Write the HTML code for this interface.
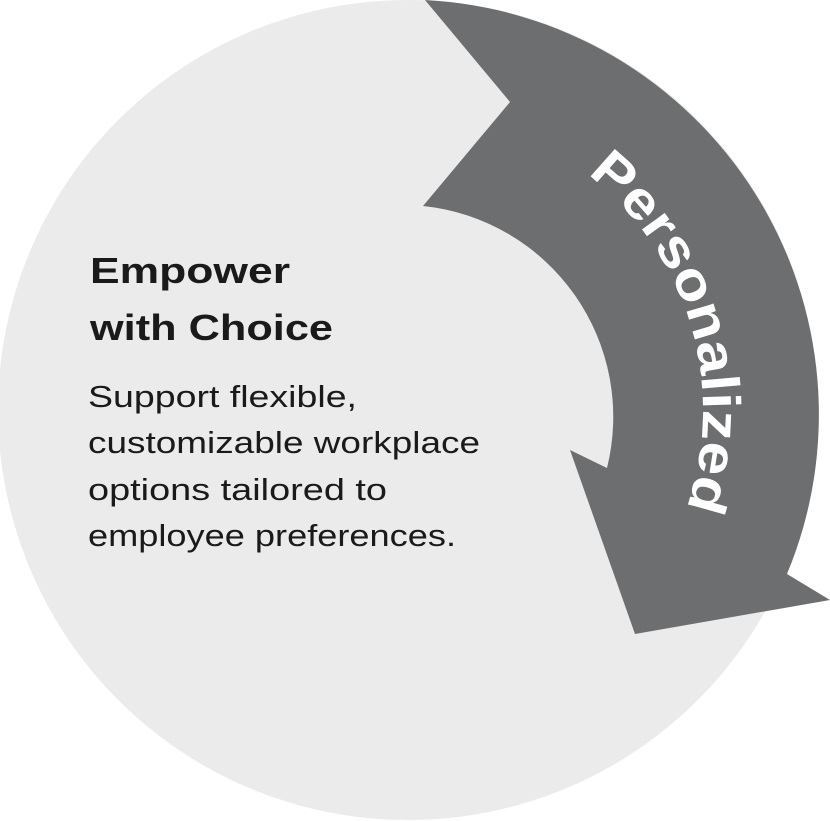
<!DOCTYPE html>
<html><head><meta charset="utf-8"><style>
html,body{margin:0;padding:0;background:#fff;}
svg{display:block;}
</style></head><body>
<svg width="830" height="821" viewBox="0 0 830 821" xmlns="http://www.w3.org/2000/svg">
<circle cx="408" cy="410" r="410" fill="#ebebeb"/>
<path d="M425,0 L510,102 L423,206 A212,212 0 0 1 607,468 L570,450 L635,634 L830,600 L787,574 A415,415 0 0 0 425,0 Z" fill="#6d6e70"/>
<defs>
<path id="arc" d="M 405 112 A 298 298 0 0 1 703 410 A 298 298 0 0 1 405 708"/>
</defs>
<text font-family="Liberation Sans, sans-serif" font-weight="bold" font-size="53" fill="#fff">
<textPath href="#arc" startOffset="196" textLength="372" lengthAdjust="spacingAndGlyphs">Personalized</textPath>
</text>
<g font-family="Liberation Sans, sans-serif" fill="#1a1a1a">
<text x="90" y="283" font-size="36" font-weight="bold" textLength="200" lengthAdjust="spacingAndGlyphs">Empower</text>
<text x="90" y="340" font-size="36" font-weight="bold" textLength="243" lengthAdjust="spacingAndGlyphs">with Choice</text>
<text x="88" y="407" font-size="31" textLength="269" lengthAdjust="spacingAndGlyphs">Support flexible,</text>
<text x="88" y="453" font-size="31" textLength="392" lengthAdjust="spacingAndGlyphs">customizable workplace</text>
<text x="88" y="500" font-size="31" textLength="299" lengthAdjust="spacingAndGlyphs">options tailored to</text>
<text x="88" y="546" font-size="31" textLength="368" lengthAdjust="spacingAndGlyphs">employee preferences.</text>
</g>
</svg>
</body></html>
